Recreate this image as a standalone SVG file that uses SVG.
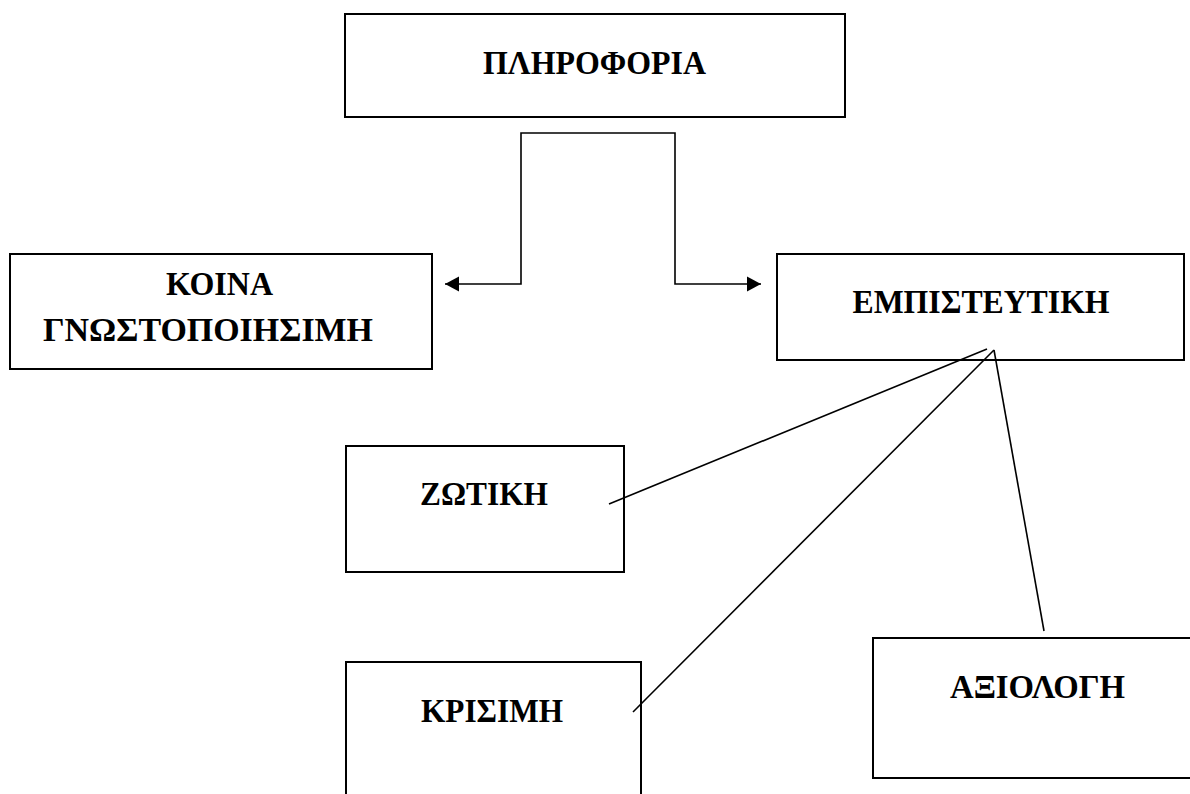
<svg xmlns="http://www.w3.org/2000/svg" width="1190" height="794" viewBox="0 0 1190 794">
<style>
.box{fill:#fff;stroke:#000;stroke-width:2}
.t{font-family:"Liberation Serif","Times New Roman",serif;font-weight:bold;font-size:33px;fill:#000;text-anchor:middle}
.ln{fill:none;stroke:#000;stroke-width:1.6}
</style>
<defs>
<marker id="ah" markerUnits="userSpaceOnUse" markerWidth="16" markerHeight="16" refX="14" refY="8" orient="auto-start-reverse" viewBox="0 0 16 16">
<path d="M0,0.5 L14,8 L0,15.5 Z" fill="#000"/>
</marker>
</defs>
<rect width="1190" height="794" fill="#fff"/>
<g id="node-plirofria">
<rect class="box" x="345" y="14" width="500" height="103"/>
<text class="t" x="594.5" y="74" textLength="223" lengthAdjust="spacingAndGlyphs">ΠΛΗΡΟΦΟΡΙΑ</text>
</g>
<g id="node-koina">
<rect class="box" x="10" y="254" width="422" height="115"/>
<text class="t" x="219.5" y="295" textLength="107" lengthAdjust="spacingAndGlyphs">ΚΟΙΝΑ</text>
<text class="t" x="208" y="341" textLength="330" lengthAdjust="spacingAndGlyphs">ΓΝΩΣΤΟΠΟΙΗΣΙΜΗ</text>
</g>
<g id="node-empisteutiki">
<rect class="box" x="777" y="254" width="407" height="106"/>
<text class="t" x="981" y="313" textLength="257" lengthAdjust="spacingAndGlyphs">ΕΜΠΙΣΤΕΥΤΙΚΗ</text>
</g>
<g id="node-zotiki">
<rect class="box" x="346" y="446" width="278" height="126"/>
<text class="t" x="484" y="505" textLength="128" lengthAdjust="spacingAndGlyphs">ΖΩΤΙΚΗ</text>
</g>
<g id="node-krisimi">
<rect class="box" x="346" y="662" width="295" height="160"/>
<text class="t" x="492" y="722" textLength="142" lengthAdjust="spacingAndGlyphs">ΚΡΙΣΙΜΗ</text>
</g>
<g id="node-axiologi">
<rect class="box" x="873" y="638" width="340" height="140"/>
<text class="t" x="1037.5" y="698" textLength="175" lengthAdjust="spacingAndGlyphs">ΑΞΙΟΛΟΓΗ</text>
</g>
<g id="connectors">
<path class="ln" d="M445,284 H521 V133 H675 V284 H761" marker-start="url(#ah)" marker-end="url(#ah)"/>
<line class="ln" x1="987" y1="349" x2="609" y2="504"/>
<line class="ln" x1="994" y1="350" x2="633" y2="712"/>
<line class="ln" x1="994" y1="350" x2="1044" y2="631"/>
</g>
</svg>
